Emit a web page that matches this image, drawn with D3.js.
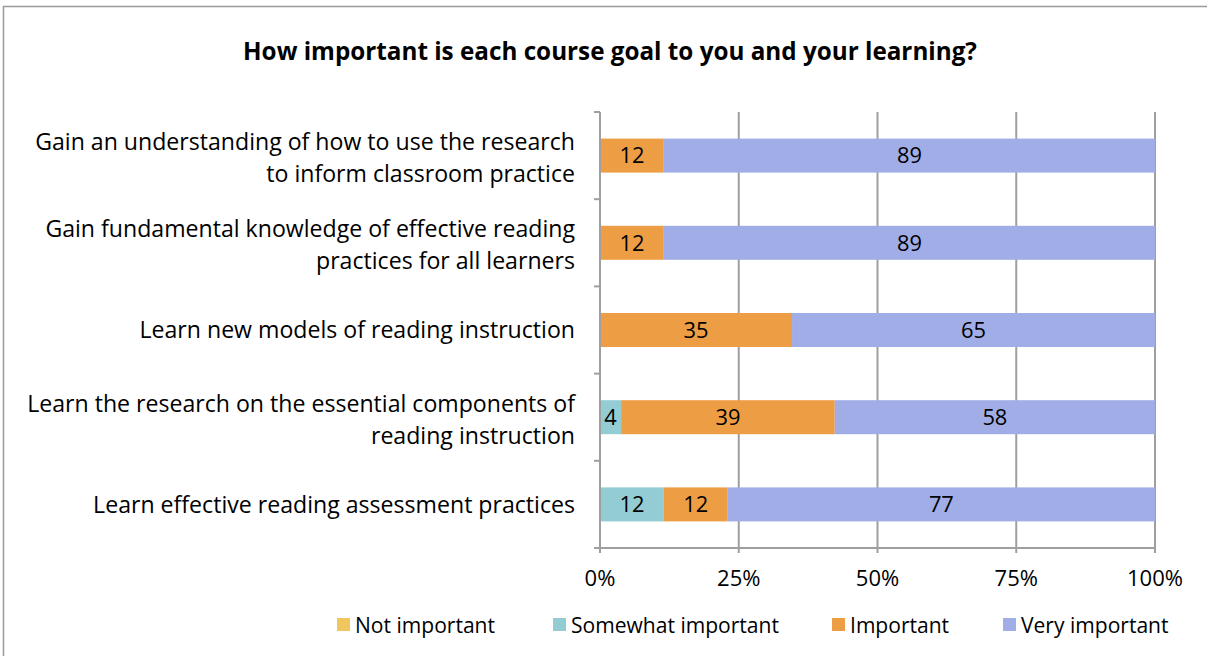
<!DOCTYPE html>
<html><head><meta charset="utf-8">
<script src="https://cdn.jsdelivr.net/npm/d3@7"></script>
<style>
body{margin:0;background:#fff;}
svg{display:block;font-family:"Open Sans", Lato, sans-serif;}
</style></head>
<body><svg id="c" width="1207" height="656"></svg>
<script>
const categories = [
  ["Gain an understanding of how to use the research", "to inform classroom practice"],
  ["Gain fundamental knowledge of effective reading", "practices for all learners"],
  ["Learn new models of reading instruction"],
  ["Learn the research on the essential components of", "reading instruction"],
  ["Learn effective reading assessment practices"]
];
const seriesNames = ["Not important", "Somewhat important", "Important", "Very important"];
const seriesColors = ["#F0C75E", "#93CDD3", "#ED9E45", "#A1ADE6"];
// percent of respondents (labels show rounded values)
const notImportant = [0, 0, 0, 0, 0];
const somewhatImportant = [0, 0, 0, 3.8, 11.5];
const important = [11.5, 11.5, 34.6, 38.5, 11.5];
const veryImportant = [88.5, 88.5, 65.4, 57.7, 76.9];
const tickValues = [0, 0.25, 0.5, 0.75, 1];
const tickLabels = ["0%", "25%", "50%", "75%", "100%"];
const title = "How important is each course goal to you and your learning?";

const svg = d3.select("#c");
const series = [notImportant, somewhatImportant, important, veryImportant];

function fit(sample, target, weight) {
  const t = svg.append("text").attr("font-size", 100).attr("font-weight", weight || "normal").text(sample);
  const w = t.node().getComputedTextLength();
  t.remove();
  return 100 * target / w;
}
const fsTitle = fit(title, 734, "bold");
const fsCat = fit(categories[0][0], 540);
const fsTick = fit("100%", 56);
const fsLeg = fit("Somewhat important", 208);
const fsLbl = fit("89", 25);

svg.append("path").attr("d", "M3.5,656 V6.5 H1207").attr("fill", "none").attr("stroke", "#9a9a9a").attr("stroke-width", 1.5);

svg.append("text").attr("x", 610).attr("y", 60).attr("text-anchor", "middle")
  .attr("font-size", fsTitle).attr("font-weight", "bold").attr("fill", "#000").text(title);

const x = d3.scaleLinear().domain([0, 1]).range([600, 1155]);
const y = d3.scaleBand().domain(d3.range(categories.length)).range([112, 548]).paddingInner(0.61).paddingOuter(0.305);

const g = svg.append("g");
g.selectAll("line.grid").data(tickValues.slice(1)).join("line")
  .attr("x1", d => x(d)).attr("x2", d => x(d)).attr("y1", 112).attr("y2", 553)
  .attr("stroke", "#9f9f9f").attr("stroke-width", 2);

const rows = categories.map((c, i) => {
  const vals = series.map(s => s[i]);
  const tot = d3.sum(vals);
  let acc = 0;
  return vals.map((v, k) => { const seg = {i, k, v, x0: acc / tot, x1: (acc + v) / tot}; acc += v; return seg; });
}).flat();

g.selectAll("rect.bar").data(rows.filter(d => d.v > 0)).join("rect")
  .attr("x", d => x(d.x0)).attr("width", d => x(d.x1) - x(d.x0))
  .attr("y", d => y(d.i)).attr("height", y.bandwidth())
  .attr("fill", d => seriesColors[d.k]);

g.selectAll("text.lbl").data(rows.filter(d => d.v > 0)).join("text")
  .attr("x", d => (x(d.x0) + x(d.x1)) / 2).attr("y", d => y(d.i) + y.bandwidth() / 2)
  .attr("dy", "0.36em")
  .attr("text-anchor", "middle").attr("font-size", fsLbl).attr("fill", "#000").text(d => Math.round(d.v));

g.append("line").attr("x1", 600).attr("x2", 600).attr("y1", 112).attr("y2", 553).attr("stroke", "#9f9f9f").attr("stroke-width", 2);
const bounds = d3.range(categories.length + 1).map(i => 112 + i * y.step());
g.selectAll("line.yt").data(bounds).join("line")
  .attr("x1", 594).attr("x2", 600).attr("y1", d => d).attr("y2", d => d)
  .attr("stroke", "#9f9f9f").attr("stroke-width", 2);
g.append("line").attr("x1", 600).attr("x2", 1155).attr("y1", 548).attr("y2", 548).attr("stroke", "#9f9f9f").attr("stroke-width", 2);
g.selectAll("text.xt").data(tickValues).join("text")
  .attr("x", d => x(d)).attr("y", 578).attr("dy", "0.36em").attr("text-anchor", "middle")
  .attr("font-size", fsTick).attr("fill", "#000").text((d, i) => tickLabels[i]);

categories.forEach((lines, i) => {
  const cy = y(i) + y.bandwidth() / 2 + (lines.length > 1 ? 2 : 0);
  const t = svg.append("text").attr("text-anchor", "end").attr("font-size", fsCat).attr("fill", "#000");
  const n = lines.length;
  lines.forEach((ln, j) => {
    t.append("tspan").attr("x", 575).attr("y", cy + (j - (n - 1) / 2) * 32).attr("dy", "0.36em").text(ln);
  });
});

const legX = [337, 553, 832, 1003];
seriesNames.forEach((s, k) => {
  svg.append("rect").attr("x", legX[k]).attr("y", 618).attr("width", 13).attr("height", 13).attr("fill", seriesColors[k]);
  svg.append("text").attr("x", legX[k] + 18).attr("y", 625).attr("dy", "0.36em").attr("font-size", fsLeg).attr("fill", "#000").text(s);
});
</script></body></html>
